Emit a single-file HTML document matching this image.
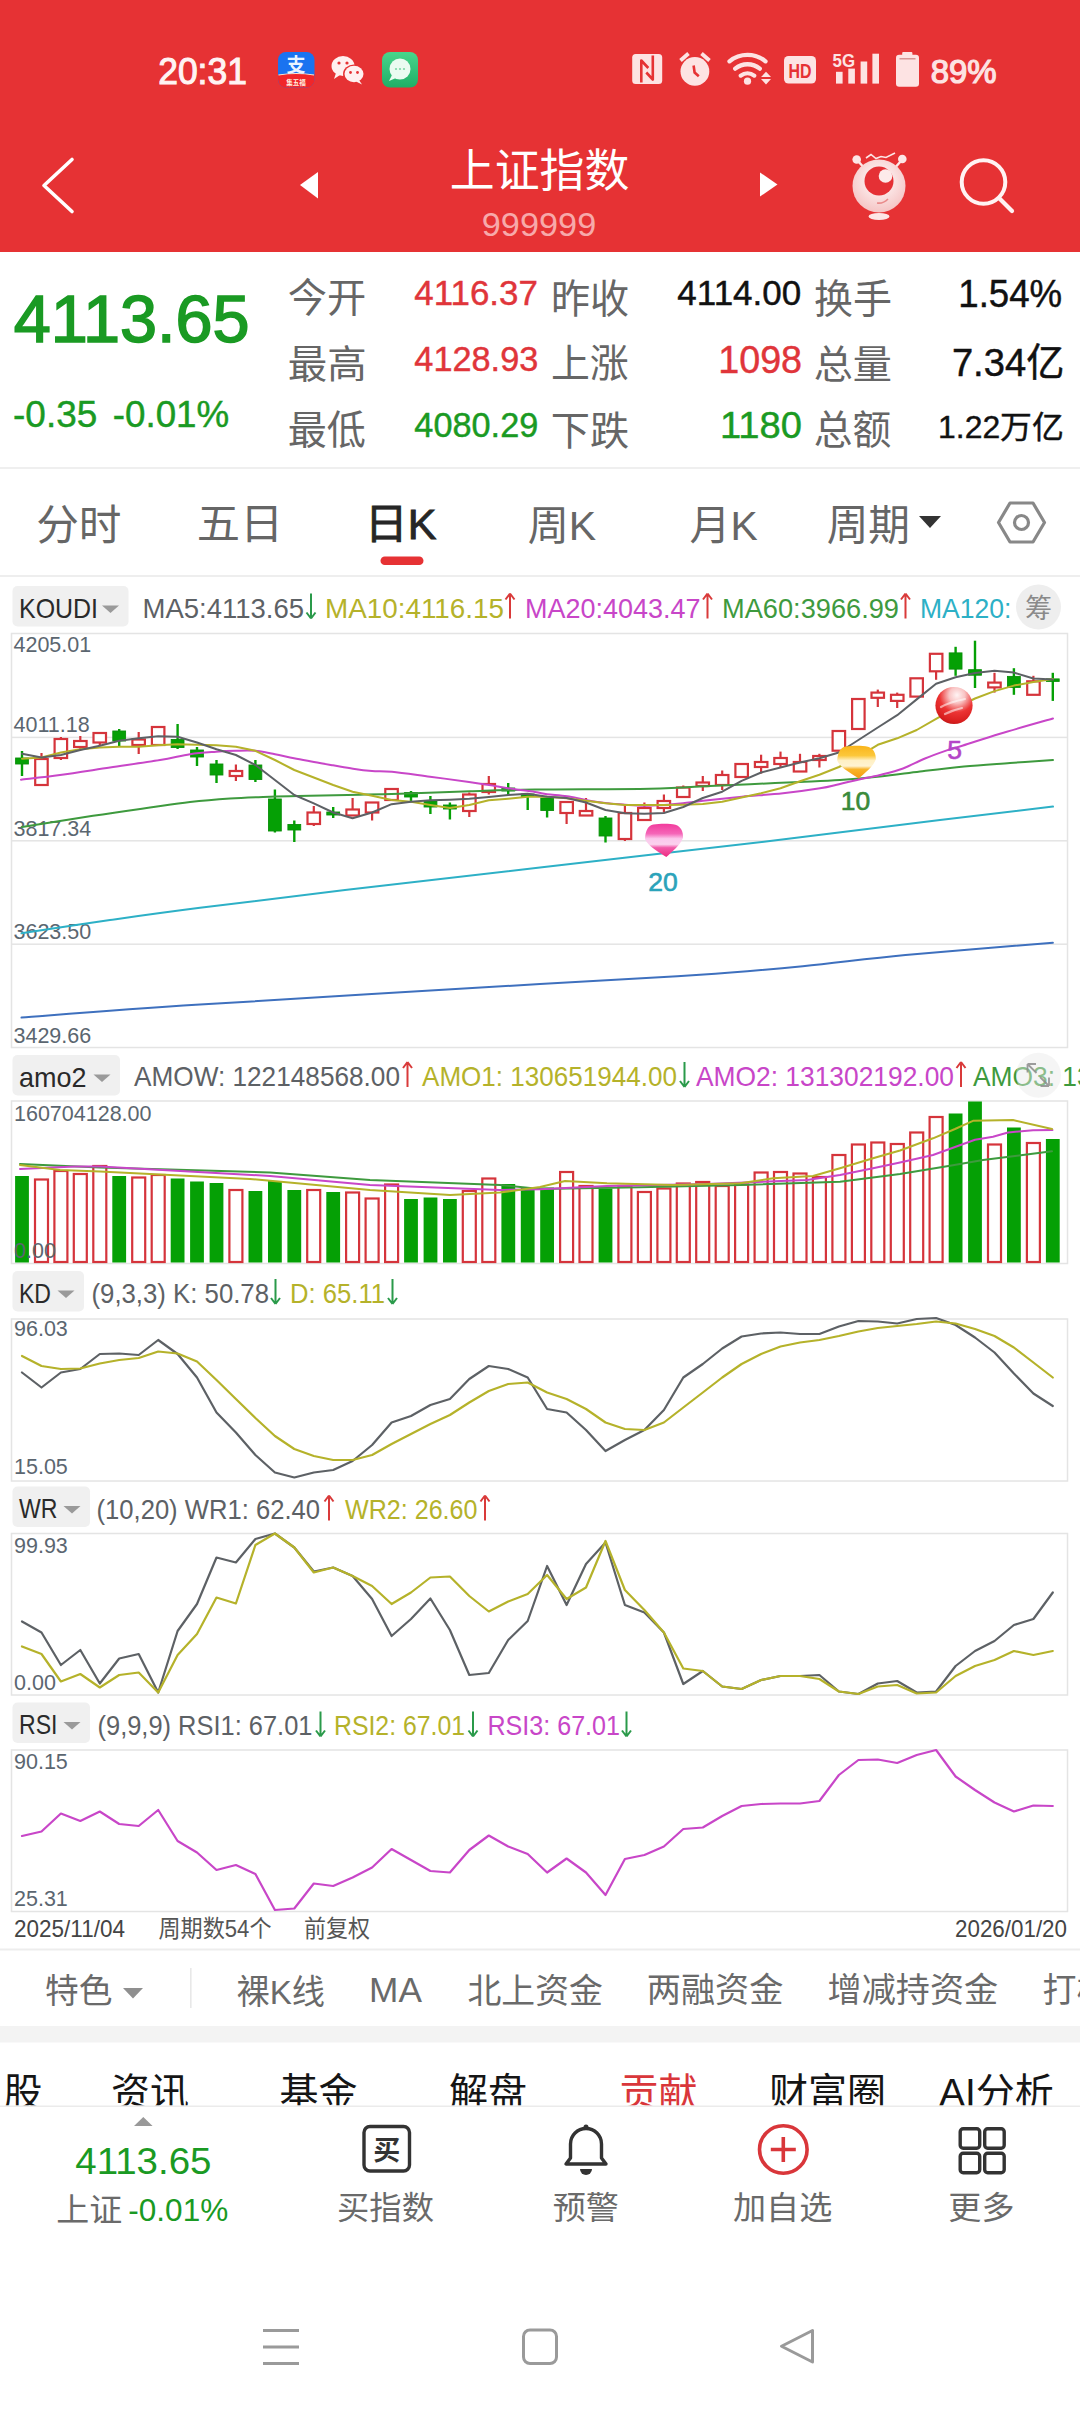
<!DOCTYPE html>
<html lang="zh-CN"><head><meta charset="utf-8"><title>上证指数</title>
<style>
*{margin:0;padding:0;box-sizing:border-box}
html,body{width:1080px;height:2412px;overflow:hidden;background:#fff}
body{position:relative;font-family:"Liberation Sans","Noto Sans CJK SC",sans-serif}
.a{position:absolute;white-space:nowrap}
svg{position:absolute;left:0;top:0;overflow:visible}
</style></head><body>
<svg width="1080" height="252" font-family='"Liberation Sans","Noto Sans CJK SC",sans-serif'><rect x="0" y="0" width="1080" height="252" fill="#E63234"/><text x="158.23" y="84.03" font-size="37.18" fill="#FFF3F3" textLength="88.63" lengthAdjust="spacingAndGlyphs" stroke="#FFF3F3" stroke-width="1.1" paint-order="stroke" >20:31</text><rect x="278" y="52" width="36.5" height="35.5" rx="8" fill="#1A73F0"/><path d="M278,75 q18.25,-3 36.5,0 v4.5 a8,8 0 0 1 -8,8 h-20.5 a8,8 0 0 1 -8,-8z" fill="#F0262A"/><path d="M278.5,75 q17.75,-3 35.5,0" fill="none" stroke="#FFE9D0" stroke-width="1.2"/><text x="296" y="72" font-size="19" fill="#EAF4FF" text-anchor="middle" font-weight="bold">支</text><text x="296" y="84.5" font-size="6.5" fill="#FFF1E0" text-anchor="middle" font-weight="bold">集五福</text><ellipse cx="343" cy="66" rx="11.5" ry="10" fill="#FFF0F0"/><path d="M336,73 l-2,6 l6,-4z" fill="#FFF0F0"/><ellipse cx="354" cy="74" rx="11" ry="9.5" fill="#E63234"/><ellipse cx="354" cy="74" rx="9.5" ry="8.2" fill="#FFF0F0"/><path d="M359,80 l3,4.5 l-6,-3z" fill="#FFF0F0"/><circle cx="339" cy="63" r="1.6" fill="#E63234"/><circle cx="347" cy="63" r="1.6" fill="#E63234"/><circle cx="350.5" cy="72.5" r="1.4" fill="#E63234"/><circle cx="357.5" cy="72.5" r="1.4" fill="#E63234"/><defs><linearGradient id="gm" x1="0" y1="0" x2="0" y2="1"><stop offset="0" stop-color="#49D58C"/><stop offset="1" stop-color="#1FAE66"/></linearGradient></defs><rect x="382" y="52" width="36" height="35.5" rx="8" fill="url(#gm)"/><circle cx="400" cy="69" r="10.5" fill="#EAFBF1"/><path d="M392,75 l-3,6 l7,-3z" fill="#EAFBF1"/><circle cx="396" cy="69" r="1.1" fill="#7FD7A6"/><circle cx="400" cy="69" r="1.1" fill="#7FD7A6"/><circle cx="404" cy="69" r="1.1" fill="#7FD7A6"/><rect x="632.2" y="54" width="30" height="30" rx="3.5" fill="#FDE3E3"/><path d="M641.3,82.5 V60.5 L648.3,68 M646.3,72.5 L652.8,79.5 V55.5" fill="none" stroke="#E63234" stroke-width="2.6" stroke-linejoin="round"/><circle cx="694.9" cy="71.4" r="14.4" fill="#FDE3E3"/><path d="M680.5,60.5 L688.5,53.5 M709.5,60.5 L701.5,53.5" fill="none" stroke="#FDE3E3" stroke-width="3.8" stroke-linecap="butt"/><path d="M693.6,65.5 L694.6,72.5 L698.8,76.2" fill="none" stroke="#E63234" stroke-width="2.6"/><path d="M729.5,61.3 A28.5,28.5 0 0 1 765.5,61.3 M735.2,68.6 A19.5,19.5 0 0 1 759.8,68.6 M740.8,75.6 A11,11 0 0 1 754.2,75.6" fill="none" stroke="#FDE3E3" stroke-width="4.3" stroke-linecap="round"/><circle cx="747.5" cy="81.2" r="3.6" fill="#FDE3E3"/><path d="M761,77 l5,-5.2 l5,5.2z M761,79 l5,5.4 l5,-5.4z" fill="#FDE3E3"/><rect x="784" y="56" width="32" height="27.6" rx="4.5" fill="#FDE3E3"/><text x="800" y="78" font-size="19.5" font-weight="bold" fill="#E63234" text-anchor="middle" textLength="23" lengthAdjust="spacingAndGlyphs">HD</text><text x="832.5" y="67" font-size="18.5" font-weight="bold" fill="#FDE3E3" textLength="22.5" lengthAdjust="spacingAndGlyphs">5G</text><rect x="836" y="71.8" width="6.6" height="11.799999999999997" fill="#FDE3E3"/><rect x="848.3" y="68.6" width="6.6" height="15.0" fill="#FDE3E3"/><rect x="860.6" y="61.5" width="6.6" height="22.099999999999994" fill="#FDE3E3"/><rect x="872.4" y="53.7" width="6.6" height="29.89999999999999" fill="#FDE3E3"/><rect x="902.2" y="52.1" width="10.2" height="4" rx="1" fill="#FDE3E3"/><rect x="896" y="54.7" width="23" height="32" rx="3.2" fill="#FDE3E3"/><rect x="899.5" y="58.2" width="16" height="1.2" fill="#D08080"/><text x="930.68" y="82.68" font-size="32.39" fill="#FDE3E3" textLength="65.96" lengthAdjust="spacingAndGlyphs" stroke="#FDE3E3" stroke-width="1.2" paint-order="stroke" >89%</text><path d="M72,159.5 L44,185.5 L72,211.5" fill="none" stroke="#fff" stroke-width="3.6" stroke-linecap="round" stroke-linejoin="round"/><path d="M318,172 L300,185 L318,198.5z" fill="#fff"/><path d="M760,172.5 L777.5,184.5 L760,196.5z" fill="#fff"/><text x="449.76" y="186.94" font-size="45.16" fill="#fff" textLength="179.59" lengthAdjust="spacingAndGlyphs" >上证指数</text><text x="481.79" y="235.68" font-size="32.39" fill="#F7A9AA" textLength="114.43" lengthAdjust="spacingAndGlyphs" >999999</text><circle cx="856.7" cy="159.5" r="4.3" fill="#FDE6E6"/><circle cx="902.3" cy="159" r="4.3" fill="#FDE6E6"/><path d="M858,161 L866,170 M901,161 L893,170" stroke="#FDE6E6" stroke-width="2.4"/><path d="M866,158 l5,-3.5 l5,4 l5,-2 l5,1 l9,-4.5" fill="none" stroke="#FDE6E6" stroke-width="1.6"/><defs><radialGradient id="hg" cx="0.5" cy="0.4" r="0.6"><stop offset="0" stop-color="#FFFFFF"/><stop offset="1" stop-color="#F5C4C4"/></radialGradient></defs><circle cx="879" cy="186" r="26.5" fill="url(#hg)"/><circle cx="879" cy="181" r="14.5" fill="#E53035"/><circle cx="885.5" cy="176" r="6.8" fill="#FDEAEA"/><path d="M877,203 q6,1 11,-4" fill="none" stroke="#E98A8A" stroke-width="1.6"/><ellipse cx="879" cy="216.5" rx="10.5" ry="3.4" fill="#FDE6E6"/><circle cx="983.5" cy="182" r="21.8" fill="none" stroke="#FFF3F3" stroke-width="4"/><path d="M1000,199 L1012,211" stroke="#FFF3F3" stroke-width="4.2" stroke-linecap="round"/></svg>
<svg width="1080" height="2412" font-family='"Liberation Sans","Noto Sans CJK SC",sans-serif'><rect x="0" y="467" width="1080" height="2" fill="#EFEFEF"/><text x="13.77" y="342.43" font-size="67.18" fill="#1A9A23" textLength="235.74" lengthAdjust="spacingAndGlyphs" stroke="#1A9A23" stroke-width="1.6" paint-order="stroke" >4113.65</text><text x="13.05" y="427.40" font-size="37.39" fill="#1A9A23" textLength="84.18" lengthAdjust="spacingAndGlyphs" stroke="#1A9A23" stroke-width="0.45" paint-order="stroke" >-0.35</text><text x="112.76" y="427.40" font-size="37.39" fill="#1A9A23" textLength="116.44" lengthAdjust="spacingAndGlyphs" stroke="#1A9A23" stroke-width="0.45" paint-order="stroke" >-0.01%</text><text x="287.73" y="312.23" font-size="39.68" fill="#666" textLength="78.53" lengthAdjust="spacingAndGlyphs" >今开</text><text x="287.73" y="378.10" font-size="38.94" fill="#666" textLength="78.94" lengthAdjust="spacingAndGlyphs" >最高</text><text x="287.75" y="444.21" font-size="39.89" fill="#666" textLength="78.12" lengthAdjust="spacingAndGlyphs" >最低</text><text x="550.97" y="312.58" font-size="40.22" fill="#666" textLength="78.19" lengthAdjust="spacingAndGlyphs" >昨收</text><text x="550.95" y="377.47" font-size="39.12" fill="#666" textLength="77.81" lengthAdjust="spacingAndGlyphs" >上涨</text><text x="550.75" y="444.62" font-size="39.78" fill="#666" textLength="78.42" lengthAdjust="spacingAndGlyphs" >下跌</text><text x="814.04" y="312.58" font-size="40.22" fill="#666" textLength="77.91" lengthAdjust="spacingAndGlyphs" >换手</text><text x="813.64" y="377.86" font-size="39.12" fill="#666" textLength="78.32" lengthAdjust="spacingAndGlyphs" >总量</text><text x="813.66" y="443.72" font-size="39.78" fill="#666" textLength="77.50" lengthAdjust="spacingAndGlyphs" >总额</text><text x="414.33" y="305.42" font-size="35.42" fill="#E0353A" textLength="123.51" lengthAdjust="spacingAndGlyphs" stroke="#E0353A" stroke-width="0.45" paint-order="stroke" >4116.37</text><text x="414.34" y="371.42" font-size="35.00" fill="#E0353A" textLength="123.97" lengthAdjust="spacingAndGlyphs" stroke="#E0353A" stroke-width="0.45" paint-order="stroke" >4128.93</text><text x="414.34" y="437.43" font-size="34.86" fill="#1A9A23" textLength="123.97" lengthAdjust="spacingAndGlyphs" stroke="#1A9A23" stroke-width="0.45" paint-order="stroke" >4080.29</text><text x="677.33" y="305.42" font-size="35.42" fill="#111" textLength="123.87" lengthAdjust="spacingAndGlyphs" stroke="#111" stroke-width="0.45" paint-order="stroke" >4114.00</text><text x="718.21" y="373.39" font-size="38.80" fill="#E0353A" textLength="83.85" lengthAdjust="spacingAndGlyphs" stroke="#E0353A" stroke-width="0.45" paint-order="stroke" >1098</text><text x="719.98" y="438.40" font-size="37.39" fill="#1A9A23" textLength="81.94" lengthAdjust="spacingAndGlyphs" stroke="#1A9A23" stroke-width="0.45" paint-order="stroke" >1180</text><text x="958.30" y="307.18" font-size="39.50" fill="#111" textLength="103.78" lengthAdjust="spacingAndGlyphs" stroke="#111" stroke-width="0.45" paint-order="stroke" >1.54%</text><text x="951.92" y="375.73" font-size="38.10" fill="#111" textLength="112.39" lengthAdjust="spacingAndGlyphs" stroke="#111" stroke-width="0.45" paint-order="stroke" >7.34亿</text><text x="938.05" y="438.31" font-size="31.09" fill="#111" textLength="125.87" lengthAdjust="spacingAndGlyphs" stroke="#111" stroke-width="0.4" paint-order="stroke" >1.22万亿</text></svg>
<svg width="1080" height="2412" font-family='"Liberation Sans","Noto Sans CJK SC",sans-serif'><text x="36.17" y="539.98" font-size="42.47" fill="#666" textLength="85.34" lengthAdjust="spacingAndGlyphs" >分时</text><text x="196.70" y="539.08" font-size="41.67" fill="#666" textLength="86.55" lengthAdjust="spacingAndGlyphs" >五日</text><text x="527.76" y="540.25" font-size="40.57" fill="#666" textLength="68.55" lengthAdjust="spacingAndGlyphs" >周K</text><text x="689.57" y="540.22" font-size="41.03" fill="#666" textLength="68.12" lengthAdjust="spacingAndGlyphs" >月K</text><text x="826.63" y="540.12" font-size="42.31" fill="#666" textLength="83.49" lengthAdjust="spacingAndGlyphs" >周期</text><text x="364.66" y="539.08" font-size="41.67" fill="#262626" textLength="71.67" lengthAdjust="spacingAndGlyphs" stroke="#262626" stroke-width="0.9" paint-order="stroke" >日K</text><rect x="380.5" y="556.5" width="43" height="8.5" rx="4.25" fill="#E63234"/><path d="M919,516 h22 l-11,12z" fill="#333"/><path d="M1010,503 h23 l11.5,19.5 l-11.5,19.5 h-23 l-11.5,-19.5z" fill="none" stroke="#888" stroke-width="3.2" stroke-linejoin="round"/><circle cx="1021.5" cy="522.5" r="7" fill="none" stroke="#888" stroke-width="3.2"/><rect x="0" y="575" width="1080" height="2" fill="#EEEEEE"/></svg>
<svg width="1080" height="2412" font-family='"Liberation Sans","Noto Sans CJK SC",sans-serif'><rect x="12.5" y="586" width="116" height="40.5" rx="5" fill="#F0F0F0"/><text x="19.0" y="617.5" font-size="27.5" fill="#2A2A2A" text-anchor="start" font-family="Liberation Sans, sans-serif" textLength="79" lengthAdjust="spacingAndGlyphs">KOUDI</text><path d="M102.0,605.5 h17 l-8.5,7.5z" fill="#9A9A9A"/><text x="142.5" y="617.5" font-size="27.5" fill="#5D6165" text-anchor="start" font-family="Liberation Sans, sans-serif" textLength="161.5" lengthAdjust="spacingAndGlyphs">MA5:4113.65</text><path d="M311,593.5 v25 M311,618.5 l-4.5,-6 M311,618.5 l4.5,-6" stroke="#2A9A4A" stroke-width="2" fill="none"/><text x="325" y="617.5" font-size="27.5" fill="#B5B22A" text-anchor="start" font-family="Liberation Sans, sans-serif" textLength="179" lengthAdjust="spacingAndGlyphs">MA10:4116.15</text><path d="M510,593.5 v25 M510,593.5 l-4.5,6 M510,593.5 l4.5,6" stroke="#D93A3A" stroke-width="2" fill="none"/><text x="525" y="617.5" font-size="27.5" fill="#C846C8" text-anchor="start" font-family="Liberation Sans, sans-serif" textLength="175.5" lengthAdjust="spacingAndGlyphs">MA20:4043.47</text><path d="M707.5,593.5 v25 M707.5,593.5 l-4.5,6 M707.5,593.5 l4.5,6" stroke="#D93A3A" stroke-width="2" fill="none"/><text x="722" y="617.5" font-size="27.5" fill="#3E9A3E" text-anchor="start" font-family="Liberation Sans, sans-serif" textLength="177" lengthAdjust="spacingAndGlyphs">MA60:3966.99</text><path d="M905.5,593.5 v25 M905.5,593.5 l-4.5,6 M905.5,593.5 l4.5,6" stroke="#D93A3A" stroke-width="2" fill="none"/><text x="920" y="617.5" font-size="27.5" fill="#2DB0C6" text-anchor="start" font-family="Liberation Sans, sans-serif" textLength="91.5" lengthAdjust="spacingAndGlyphs">MA120:</text><circle cx="1038.5" cy="607" r="22.5" fill="#EEEEEE"/><text x="1038.5" y="617.5" font-size="27" fill="#8A8A8A" text-anchor="middle" >筹</text><rect x="11.5" y="633.5" width="1056" height="414.0" fill="none" stroke="#E4E4E4" stroke-width="1.5"/><rect x="12" y="736.65" width="1055" height="1.5" fill="#E4E4E4"/><rect x="12" y="840.05" width="1055" height="1.5" fill="#E4E4E4"/><rect x="12" y="943.45" width="1055" height="1.5" fill="#E4E4E4"/><text x="13.5" y="651.5" font-size="21.5" fill="#5B6670" text-anchor="start" font-family="Liberation Sans, sans-serif">4205.01</text><text x="13.5" y="732" font-size="21.5" fill="#5B6670" text-anchor="start" font-family="Liberation Sans, sans-serif">4011.18</text><text x="13.5" y="835.5" font-size="21.5" fill="#5B6670" text-anchor="start" font-family="Liberation Sans, sans-serif">3817.34</text><text x="13.5" y="939" font-size="21.5" fill="#5B6670" text-anchor="start" font-family="Liberation Sans, sans-serif">3623.50</text><text x="13.5" y="1042.5" font-size="21.5" fill="#5B6670" text-anchor="start" font-family="Liberation Sans, sans-serif">3429.66</text><line x1="22.0" y1="751.0" x2="22.0" y2="776.0" stroke="#05A005" stroke-width="2.4"/><rect x="15.6" y="758.0" width="12.8" height="6.0" fill="#05A005" stroke="#0A8F0A" stroke-width="0.9"/><line x1="41.5" y1="753.0" x2="41.5" y2="759.0" stroke="#D5343B" stroke-width="2.2"/><line x1="41.5" y1="785.0" x2="41.5" y2="785.0" stroke="#D5343B" stroke-width="2.2"/><rect x="35.2" y="759.0" width="12.5" height="26.0" fill="#fff" stroke="#D5343B" stroke-width="2.2"/><line x1="60.9" y1="737.0" x2="60.9" y2="739.0" stroke="#D5343B" stroke-width="2.2"/><line x1="60.9" y1="758.0" x2="60.9" y2="760.0" stroke="#D5343B" stroke-width="2.2"/><rect x="54.6" y="739.0" width="12.5" height="19.0" fill="#fff" stroke="#D5343B" stroke-width="2.2"/><line x1="80.3" y1="736.0" x2="80.3" y2="741.0" stroke="#D5343B" stroke-width="2.2"/><line x1="80.3" y1="747.0" x2="80.3" y2="749.0" stroke="#D5343B" stroke-width="2.2"/><rect x="74.1" y="741.0" width="12.5" height="6.0" fill="#fff" stroke="#D5343B" stroke-width="2.2"/><line x1="99.8" y1="733.0" x2="99.8" y2="733.0" stroke="#D5343B" stroke-width="2.2"/><line x1="99.8" y1="742.5" x2="99.8" y2="746.0" stroke="#D5343B" stroke-width="2.2"/><rect x="93.5" y="733.0" width="12.5" height="9.5" fill="#fff" stroke="#D5343B" stroke-width="2.2"/><line x1="119.2" y1="729.0" x2="119.2" y2="746.0" stroke="#05A005" stroke-width="2.4"/><rect x="112.8" y="731.0" width="12.8" height="10.0" fill="#05A005" stroke="#0A8F0A" stroke-width="0.9"/><line x1="138.7" y1="732.0" x2="138.7" y2="739.5" stroke="#D5343B" stroke-width="2.2"/><line x1="138.7" y1="745.0" x2="138.7" y2="754.0" stroke="#D5343B" stroke-width="2.2"/><rect x="132.4" y="739.5" width="12.5" height="5.5" fill="#fff" stroke="#D5343B" stroke-width="2.2"/><line x1="158.2" y1="727.0" x2="158.2" y2="727.0" stroke="#D5343B" stroke-width="2.2"/><line x1="158.2" y1="745.0" x2="158.2" y2="745.0" stroke="#D5343B" stroke-width="2.2"/><rect x="151.9" y="727.0" width="12.5" height="18.0" fill="#fff" stroke="#D5343B" stroke-width="2.2"/><line x1="177.6" y1="724.0" x2="177.6" y2="749.0" stroke="#05A005" stroke-width="2.4"/><rect x="171.2" y="739.5" width="12.8" height="8.0" fill="#05A005" stroke="#0A8F0A" stroke-width="0.9"/><line x1="197.0" y1="747.0" x2="197.0" y2="766.0" stroke="#05A005" stroke-width="2.4"/><rect x="190.6" y="750.0" width="12.8" height="7.0" fill="#05A005" stroke="#0A8F0A" stroke-width="0.9"/><line x1="216.5" y1="760.0" x2="216.5" y2="783.0" stroke="#05A005" stroke-width="2.4"/><rect x="210.1" y="764.0" width="12.8" height="11.0" fill="#05A005" stroke="#0A8F0A" stroke-width="0.9"/><line x1="235.9" y1="764.5" x2="235.9" y2="771.0" stroke="#D5343B" stroke-width="2.2"/><line x1="235.9" y1="776.0" x2="235.9" y2="781.0" stroke="#D5343B" stroke-width="2.2"/><rect x="229.7" y="771.0" width="12.5" height="5.0" fill="#fff" stroke="#D5343B" stroke-width="2.2"/><line x1="255.4" y1="760.0" x2="255.4" y2="782.0" stroke="#05A005" stroke-width="2.4"/><rect x="249.0" y="765.0" width="12.8" height="14.5" fill="#05A005" stroke="#0A8F0A" stroke-width="0.9"/><line x1="274.9" y1="789.5" x2="274.9" y2="832.5" stroke="#05A005" stroke-width="2.4"/><rect x="268.5" y="799.0" width="12.8" height="32.0" fill="#05A005" stroke="#0A8F0A" stroke-width="0.9"/><line x1="294.3" y1="820.5" x2="294.3" y2="842.0" stroke="#05A005" stroke-width="2.4"/><rect x="287.9" y="824.5" width="12.8" height="5.5" fill="#05A005" stroke="#0A8F0A" stroke-width="0.9"/><line x1="313.8" y1="806.0" x2="313.8" y2="812.5" stroke="#D5343B" stroke-width="2.2"/><line x1="313.8" y1="824.0" x2="313.8" y2="826.0" stroke="#D5343B" stroke-width="2.2"/><rect x="307.5" y="812.5" width="12.5" height="11.5" fill="#fff" stroke="#D5343B" stroke-width="2.2"/><line x1="333.2" y1="807.0" x2="333.2" y2="818.0" stroke="#05A005" stroke-width="2.4"/><rect x="326.8" y="812.0" width="12.8" height="3.0" fill="#05A005" stroke="#0A8F0A" stroke-width="0.9"/><line x1="352.6" y1="798.0" x2="352.6" y2="809.5" stroke="#D5343B" stroke-width="2.2"/><line x1="352.6" y1="815.5" x2="352.6" y2="816.0" stroke="#D5343B" stroke-width="2.2"/><rect x="346.4" y="809.5" width="12.5" height="6.0" fill="#fff" stroke="#D5343B" stroke-width="2.2"/><line x1="372.1" y1="802.5" x2="372.1" y2="802.5" stroke="#D5343B" stroke-width="2.2"/><line x1="372.1" y1="812.5" x2="372.1" y2="820.5" stroke="#D5343B" stroke-width="2.2"/><rect x="365.8" y="802.5" width="12.5" height="10.0" fill="#fff" stroke="#D5343B" stroke-width="2.2"/><line x1="391.6" y1="789.0" x2="391.6" y2="789.0" stroke="#D5343B" stroke-width="2.2"/><line x1="391.6" y1="800.0" x2="391.6" y2="800.0" stroke="#D5343B" stroke-width="2.2"/><rect x="385.3" y="789.0" width="12.5" height="11.0" fill="#fff" stroke="#D5343B" stroke-width="2.2"/><line x1="411.0" y1="791.0" x2="411.0" y2="801.0" stroke="#05A005" stroke-width="2.4"/><rect x="404.6" y="792.5" width="12.8" height="4.5" fill="#05A005" stroke="#0A8F0A" stroke-width="0.9"/><line x1="430.4" y1="796.0" x2="430.4" y2="814.0" stroke="#05A005" stroke-width="2.4"/><rect x="424.1" y="801.0" width="12.8" height="6.0" fill="#05A005" stroke="#0A8F0A" stroke-width="0.9"/><line x1="449.9" y1="802.5" x2="449.9" y2="819.5" stroke="#05A005" stroke-width="2.4"/><rect x="443.5" y="805.0" width="12.8" height="4.0" fill="#05A005" stroke="#0A8F0A" stroke-width="0.9"/><line x1="469.3" y1="792.5" x2="469.3" y2="794.5" stroke="#D5343B" stroke-width="2.2"/><line x1="469.3" y1="811.0" x2="469.3" y2="817.0" stroke="#D5343B" stroke-width="2.2"/><rect x="463.1" y="794.5" width="12.5" height="16.5" fill="#fff" stroke="#D5343B" stroke-width="2.2"/><line x1="488.8" y1="776.0" x2="488.8" y2="784.0" stroke="#D5343B" stroke-width="2.2"/><line x1="488.8" y1="792.0" x2="488.8" y2="794.5" stroke="#D5343B" stroke-width="2.2"/><rect x="482.5" y="784.0" width="12.5" height="8.0" fill="#fff" stroke="#D5343B" stroke-width="2.2"/><line x1="508.2" y1="783.0" x2="508.2" y2="795.0" stroke="#05A005" stroke-width="2.4"/><rect x="501.9" y="788.0" width="12.8" height="3.0" fill="#05A005" stroke="#0A8F0A" stroke-width="0.9"/><line x1="527.7" y1="793.0" x2="527.7" y2="810.0" stroke="#05A005" stroke-width="2.4"/><rect x="521.3" y="794.0" width="12.8" height="2.5" fill="#05A005" stroke="#0A8F0A" stroke-width="0.9"/><line x1="547.1" y1="798.0" x2="547.1" y2="817.5" stroke="#05A005" stroke-width="2.4"/><rect x="540.8" y="798.0" width="12.8" height="12.5" fill="#05A005" stroke="#0A8F0A" stroke-width="0.9"/><line x1="566.6" y1="802.0" x2="566.6" y2="802.0" stroke="#D5343B" stroke-width="2.2"/><line x1="566.6" y1="813.0" x2="566.6" y2="824.0" stroke="#D5343B" stroke-width="2.2"/><rect x="560.4" y="802.0" width="12.5" height="11.0" fill="#fff" stroke="#D5343B" stroke-width="2.2"/><line x1="586.0" y1="798.0" x2="586.0" y2="811.0" stroke="#D5343B" stroke-width="2.2"/><line x1="586.0" y1="815.5" x2="586.0" y2="815.5" stroke="#D5343B" stroke-width="2.2"/><rect x="579.8" y="811.0" width="12.5" height="4.5" fill="#fff" stroke="#D5343B" stroke-width="2.2"/><line x1="605.5" y1="816.0" x2="605.5" y2="842.5" stroke="#05A005" stroke-width="2.4"/><rect x="599.1" y="818.0" width="12.8" height="18.0" fill="#05A005" stroke="#0A8F0A" stroke-width="0.9"/><line x1="624.9" y1="805.0" x2="624.9" y2="813.0" stroke="#D5343B" stroke-width="2.2"/><line x1="624.9" y1="839.0" x2="624.9" y2="841.0" stroke="#D5343B" stroke-width="2.2"/><rect x="618.7" y="813.0" width="12.5" height="26.0" fill="#fff" stroke="#D5343B" stroke-width="2.2"/><line x1="644.4" y1="802.5" x2="644.4" y2="808.0" stroke="#D5343B" stroke-width="2.2"/><line x1="644.4" y1="820.0" x2="644.4" y2="820.0" stroke="#D5343B" stroke-width="2.2"/><rect x="638.1" y="808.0" width="12.5" height="12.0" fill="#fff" stroke="#D5343B" stroke-width="2.2"/><line x1="663.9" y1="794.5" x2="663.9" y2="801.0" stroke="#D5343B" stroke-width="2.2"/><line x1="663.9" y1="808.0" x2="663.9" y2="812.5" stroke="#D5343B" stroke-width="2.2"/><rect x="657.6" y="801.0" width="12.5" height="7.0" fill="#fff" stroke="#D5343B" stroke-width="2.2"/><line x1="683.3" y1="785.5" x2="683.3" y2="787.5" stroke="#D5343B" stroke-width="2.2"/><line x1="683.3" y1="797.0" x2="683.3" y2="797.0" stroke="#D5343B" stroke-width="2.2"/><rect x="677.0" y="787.5" width="12.5" height="9.5" fill="#fff" stroke="#D5343B" stroke-width="2.2"/><line x1="702.8" y1="776.0" x2="702.8" y2="782.5" stroke="#D5343B" stroke-width="2.2"/><line x1="702.8" y1="786.0" x2="702.8" y2="791.0" stroke="#D5343B" stroke-width="2.2"/><rect x="696.5" y="782.5" width="12.5" height="3.5" fill="#fff" stroke="#D5343B" stroke-width="2.2"/><line x1="722.2" y1="770.5" x2="722.2" y2="775.0" stroke="#D5343B" stroke-width="2.2"/><line x1="722.2" y1="785.0" x2="722.2" y2="790.0" stroke="#D5343B" stroke-width="2.2"/><rect x="715.9" y="775.0" width="12.5" height="10.0" fill="#fff" stroke="#D5343B" stroke-width="2.2"/><line x1="741.6" y1="764.0" x2="741.6" y2="764.0" stroke="#D5343B" stroke-width="2.2"/><line x1="741.6" y1="777.0" x2="741.6" y2="777.0" stroke="#D5343B" stroke-width="2.2"/><rect x="735.4" y="764.0" width="12.5" height="13.0" fill="#fff" stroke="#D5343B" stroke-width="2.2"/><line x1="761.1" y1="754.7" x2="761.1" y2="762.0" stroke="#D5343B" stroke-width="2.2"/><line x1="761.1" y1="767.0" x2="761.1" y2="773.6" stroke="#D5343B" stroke-width="2.2"/><rect x="754.9" y="762.0" width="12.5" height="5.0" fill="#fff" stroke="#D5343B" stroke-width="2.2"/><line x1="780.5" y1="751.6" x2="780.5" y2="758.0" stroke="#D5343B" stroke-width="2.2"/><line x1="780.5" y1="764.0" x2="780.5" y2="767.5" stroke="#D5343B" stroke-width="2.2"/><rect x="774.3" y="758.0" width="12.5" height="6.0" fill="#fff" stroke="#D5343B" stroke-width="2.2"/><line x1="800.0" y1="753.8" x2="800.0" y2="762.0" stroke="#D5343B" stroke-width="2.2"/><line x1="800.0" y1="771.5" x2="800.0" y2="771.5" stroke="#D5343B" stroke-width="2.2"/><rect x="793.8" y="762.0" width="12.5" height="9.5" fill="#fff" stroke="#D5343B" stroke-width="2.2"/><line x1="819.4" y1="753.8" x2="819.4" y2="756.0" stroke="#D5343B" stroke-width="2.2"/><line x1="819.4" y1="760.0" x2="819.4" y2="767.5" stroke="#D5343B" stroke-width="2.2"/><rect x="813.2" y="756.0" width="12.5" height="4.0" fill="#fff" stroke="#D5343B" stroke-width="2.2"/><line x1="838.9" y1="731.0" x2="838.9" y2="731.0" stroke="#D5343B" stroke-width="2.2"/><line x1="838.9" y1="750.7" x2="838.9" y2="750.7" stroke="#D5343B" stroke-width="2.2"/><rect x="832.6" y="731.0" width="12.5" height="19.7" fill="#fff" stroke="#D5343B" stroke-width="2.2"/><line x1="858.4" y1="699.0" x2="858.4" y2="699.0" stroke="#D5343B" stroke-width="2.2"/><line x1="858.4" y1="729.0" x2="858.4" y2="729.0" stroke="#D5343B" stroke-width="2.2"/><rect x="852.1" y="699.0" width="12.5" height="30.0" fill="#fff" stroke="#D5343B" stroke-width="2.2"/><line x1="877.8" y1="689.6" x2="877.8" y2="692.6" stroke="#D5343B" stroke-width="2.2"/><line x1="877.8" y1="697.8" x2="877.8" y2="707.0" stroke="#D5343B" stroke-width="2.2"/><rect x="871.5" y="692.6" width="12.5" height="5.2" fill="#fff" stroke="#D5343B" stroke-width="2.2"/><line x1="897.2" y1="692.6" x2="897.2" y2="694.8" stroke="#D5343B" stroke-width="2.2"/><line x1="897.2" y1="700.9" x2="897.2" y2="708.0" stroke="#D5343B" stroke-width="2.2"/><rect x="891.0" y="694.8" width="12.5" height="6.1" fill="#fff" stroke="#D5343B" stroke-width="2.2"/><line x1="916.7" y1="678.3" x2="916.7" y2="678.3" stroke="#D5343B" stroke-width="2.2"/><line x1="916.7" y1="696.6" x2="916.7" y2="696.6" stroke="#D5343B" stroke-width="2.2"/><rect x="910.4" y="678.3" width="12.5" height="18.3" fill="#fff" stroke="#D5343B" stroke-width="2.2"/><line x1="936.1" y1="653.8" x2="936.1" y2="653.8" stroke="#D5343B" stroke-width="2.2"/><line x1="936.1" y1="671.2" x2="936.1" y2="679.8" stroke="#D5343B" stroke-width="2.2"/><rect x="929.9" y="653.8" width="12.5" height="17.5" fill="#fff" stroke="#D5343B" stroke-width="2.2"/><line x1="955.6" y1="646.8" x2="955.6" y2="675.8" stroke="#05A005" stroke-width="2.4"/><rect x="949.2" y="652.9" width="12.8" height="16.2" fill="#05A005" stroke="#0A8F0A" stroke-width="0.9"/><line x1="975.0" y1="640.7" x2="975.0" y2="688.0" stroke="#05A005" stroke-width="2.4"/><rect x="968.6" y="669.7" width="12.8" height="5.5" fill="#05A005" stroke="#0A8F0A" stroke-width="0.9"/><line x1="994.5" y1="672.8" x2="994.5" y2="682.6" stroke="#D5343B" stroke-width="2.2"/><line x1="994.5" y1="687.4" x2="994.5" y2="692.6" stroke="#D5343B" stroke-width="2.2"/><rect x="988.2" y="682.6" width="12.5" height="4.8" fill="#fff" stroke="#D5343B" stroke-width="2.2"/><line x1="1013.9" y1="668.2" x2="1013.9" y2="694.8" stroke="#05A005" stroke-width="2.4"/><rect x="1007.5" y="676.4" width="12.8" height="11.0" fill="#05A005" stroke="#0A8F0A" stroke-width="0.9"/><line x1="1033.4" y1="675.8" x2="1033.4" y2="681.3" stroke="#D5343B" stroke-width="2.2"/><line x1="1033.4" y1="694.8" x2="1033.4" y2="694.8" stroke="#D5343B" stroke-width="2.2"/><rect x="1027.2" y="681.3" width="12.5" height="13.5" fill="#fff" stroke="#D5343B" stroke-width="2.2"/><line x1="1052.8" y1="672.8" x2="1052.8" y2="700.9" stroke="#05A005" stroke-width="2.4"/><rect x="1046.4" y="678.9" width="12.8" height="2.5" fill="#05A005" stroke="#0A8F0A" stroke-width="0.9"/><path d="M21.5,1017.6 C51.2,1015.4 113.6,1010.2 200.0,1004.6 C286.4,999.0 456.7,989.0 540.0,984.0 C623.3,979.0 656.2,977.8 700.0,974.8 C743.8,971.8 768.5,969.5 802.8,966.2 C837.0,962.9 863.8,958.9 905.5,955.0 C947.2,951.1 1028.3,944.8 1052.9,942.8" fill="none" stroke="#3E70BE" stroke-width="2" stroke-linecap="round"/><path d="M21.5,933.3 C36.2,931.1 80.2,924.2 110.0,920.0 C139.8,915.8 160.8,912.8 200.0,907.8 C239.2,902.8 288.3,896.7 345.0,890.0 C401.7,883.3 469.2,875.7 540.0,867.5 C610.8,859.3 703.3,848.9 770.0,841.0 C836.7,833.1 892.8,825.7 940.0,820.0 C987.2,814.3 1034.2,808.8 1053.0,806.6" fill="none" stroke="#2DB0C6" stroke-width="2" stroke-linecap="round"/><path d="M22.0,827.0 C33.8,825.1 71.7,819.0 93.0,815.8 C114.3,812.5 133.8,809.8 150.0,807.5 C166.2,805.2 176.7,803.5 190.0,802.0 C203.3,800.5 216.7,799.4 230.0,798.5 C243.3,797.6 256.7,797.2 270.0,796.7 C283.3,796.2 295.0,796.1 310.0,795.8 C325.0,795.5 345.0,795.1 360.0,794.7 C375.0,794.4 381.7,794.3 400.0,793.7 C418.3,793.1 447.5,792.0 470.0,791.3 C492.5,790.6 505.0,790.0 535.0,789.6 C565.0,789.2 620.8,789.4 650.0,788.8 C679.2,788.2 693.3,786.8 710.0,786.0 C726.7,785.2 735.0,784.9 750.0,784.2 C765.0,783.5 785.0,782.7 800.0,782.0 C815.0,781.3 826.7,780.9 840.0,780.0 C853.3,779.1 866.7,777.9 880.0,776.5 C893.3,775.1 906.0,773.2 920.0,771.5 C934.0,769.8 949.0,767.9 964.0,766.5 C979.0,765.1 995.2,764.1 1010.0,763.0 C1024.8,761.9 1045.8,760.5 1053.0,760.0" fill="none" stroke="#3E9A3E" stroke-width="2" stroke-linecap="round"/><path d="M21.0,779.7 C27.5,778.9 45.2,777.0 60.0,775.0 C74.8,773.0 93.3,770.0 110.0,767.5 C126.7,765.0 146.7,762.2 160.0,760.0 C173.3,757.8 180.7,755.6 190.0,754.2 C199.3,752.8 208.3,752.3 216.0,751.7 C223.7,751.1 229.5,750.9 236.0,750.8 C242.5,750.6 248.5,750.2 255.0,750.8 C261.5,751.4 268.5,753.0 275.0,754.2 C281.5,755.5 287.5,757.0 294.0,758.3 C300.5,759.6 307.5,760.8 314.0,762.0 C320.5,763.2 326.5,764.2 333.0,765.3 C339.5,766.4 346.5,767.8 353.0,768.7 C359.5,769.7 365.5,770.5 372.0,771.0 C378.5,771.5 382.3,770.8 392.0,771.7 C401.7,772.7 417.2,775.0 430.0,776.7 C442.8,778.4 459.2,780.6 469.0,782.0 C478.8,783.4 482.5,784.0 489.0,785.0 C495.5,786.0 500.3,787.1 508.0,788.3 C515.7,789.5 528.5,791.0 535.0,792.0 C541.5,793.0 541.7,793.5 547.0,794.2 C552.3,794.9 560.5,795.3 567.0,796.3 C573.5,797.3 579.7,798.9 586.0,800.0 C592.3,801.1 598.5,802.2 605.0,803.0 C611.5,803.8 618.5,804.2 625.0,804.7 C631.5,805.2 637.5,805.8 644.0,805.8 C650.5,805.8 657.5,805.4 664.0,805.0 C670.5,804.6 676.5,804.0 683.0,803.3 C689.5,802.6 693.2,801.9 703.0,800.8 C712.8,799.7 728.7,798.0 742.0,796.7 C755.3,795.5 770.0,794.7 783.0,793.3 C796.0,791.9 810.7,789.8 820.0,788.3 C829.3,786.8 832.7,785.6 839.0,784.2 C845.3,782.8 851.2,781.2 858.0,779.7 C864.8,778.2 872.5,776.9 880.0,775.0 C887.5,773.1 895.5,771.2 903.0,768.5 C910.5,765.8 917.5,761.6 925.0,758.5 C932.5,755.4 941.7,752.2 948.0,750.0 C954.3,747.8 954.3,748.2 963.0,745.5 C971.7,742.8 985.0,738.2 1000.0,733.7 C1015.0,729.2 1044.2,721.0 1053.0,718.5" fill="none" stroke="#C846C8" stroke-width="2" stroke-linecap="round"/><polyline points="22.0,758.7 41.5,757.5 60.9,752.5 80.3,749.2 99.8,747.5 119.2,746.7 138.7,746.7 158.2,745.3 177.6,744.2 197.0,744.7 216.5,745.3 235.9,746.7 255.4,750.8 274.9,760.0 294.3,770.0 313.8,777.5 333.2,785.0 352.6,791.7 372.1,795.8 391.6,800.0 411.0,801.7 430.4,805.0 449.9,808.0 469.3,805.0 488.8,800.3 508.2,798.7 527.7,796.7 547.1,796.7 566.6,798.3 586.0,800.8 605.5,803.3 624.9,805.0 644.4,805.0 663.9,805.0 683.3,804.7 702.8,804.0 722.2,801.7 741.6,797.5 761.1,793.3 780.5,788.3 800.0,781.3 819.4,774.7 838.9,767.0 858.4,756.7 877.8,744.8 897.2,738.3 916.7,730.0 936.1,718.9 955.6,707.8 975.0,698.5 994.5,691.1 1013.9,685.6 1033.4,681.9 1052.8,679.1" fill="none" stroke="#B5B22A" stroke-width="2" stroke-linejoin="round" stroke-linecap="round"/><polyline points="22.0,753.7 41.5,757.5 60.9,755.0 80.3,750.0 99.8,745.8 119.2,740.8 138.7,738.3 158.2,736.3 177.6,736.7 197.0,742.5 216.5,749.2 235.9,755.0 255.4,765.0 274.9,780.0 294.3,795.0 313.8,803.3 333.2,812.5 352.6,818.3 372.1,812.5 391.6,804.2 411.0,801.7 430.4,800.3 449.9,799.7 469.3,798.7 488.8,797.0 508.2,795.0 527.7,793.7 547.1,796.7 566.6,798.0 586.0,802.5 605.5,810.0 624.9,813.3 644.4,813.7 663.9,813.0 683.3,807.0 702.8,798.0 722.2,791.7 741.6,780.8 761.1,772.5 780.5,767.5 800.0,762.5 819.4,758.3 838.9,752.5 858.4,740.0 877.8,727.5 897.2,715.2 916.7,699.4 936.1,683.7 955.6,677.2 975.0,673.0 994.5,670.7 1013.9,672.6 1033.4,678.5 1052.8,679.6" fill="none" stroke="#5D6165" stroke-width="2" stroke-linejoin="round" stroke-linecap="round"/></svg>
<svg width="1080" height="2412" font-family='"Liberation Sans","Noto Sans CJK SC",sans-serif'><rect x="12.5" y="1055" width="107.5" height="40.5" rx="5" fill="#F0F0F0"/><text x="19.0" y="1086.5" font-size="27.5" fill="#2A2A2A" text-anchor="start" font-family="Liberation Sans, sans-serif" textLength="67.5" lengthAdjust="spacingAndGlyphs">amo2</text><path d="M93.5,1074.5 h17 l-8.5,7.5z" fill="#9A9A9A"/><text x="134" y="1086" font-size="27.5" fill="#5D6165" text-anchor="start" font-family="Liberation Sans, sans-serif" textLength="266" lengthAdjust="spacingAndGlyphs">AMOW: 122148568.00</text><path d="M407.5,1062 v25 M407.5,1062 l-4.5,6 M407.5,1062 l4.5,6" stroke="#D93A3A" stroke-width="2" fill="none"/><text x="422" y="1086" font-size="27.5" fill="#B5B22A" text-anchor="start" font-family="Liberation Sans, sans-serif" textLength="255" lengthAdjust="spacingAndGlyphs">AMO1: 130651944.00</text><path d="M684.5,1062 v25 M684.5,1087 l-4.5,-6 M684.5,1087 l4.5,-6" stroke="#2A9A4A" stroke-width="2" fill="none"/><text x="696" y="1086" font-size="27.5" fill="#C846C8" text-anchor="start" font-family="Liberation Sans, sans-serif" textLength="258" lengthAdjust="spacingAndGlyphs">AMO2: 131302192.00</text><path d="M961,1062 v25 M961,1062 l-4.5,6 M961,1062 l4.5,6" stroke="#D93A3A" stroke-width="2" fill="none"/><text x="973" y="1086" font-size="27.5" fill="#3E9A3E" text-anchor="start" font-family="Liberation Sans, sans-serif" textLength="258" lengthAdjust="spacingAndGlyphs">AMO3: 131302192.00</text><rect x="11.5" y="1101" width="1056" height="162.5" fill="none" stroke="#E4E4E4" stroke-width="1.5"/><rect x="15.1" y="1176.0" width="13.8" height="86.5" fill="#05A005"/><rect x="35.0" y="1179.5" width="13" height="82.5" fill="#fff" stroke="#D5343B" stroke-width="2.2"/><rect x="54.4" y="1171.0" width="13" height="91.0" fill="#fff" stroke="#D5343B" stroke-width="2.2"/><rect x="73.8" y="1174.0" width="13" height="88.0" fill="#fff" stroke="#D5343B" stroke-width="2.2"/><rect x="93.3" y="1166.0" width="13" height="96.0" fill="#fff" stroke="#D5343B" stroke-width="2.2"/><rect x="112.3" y="1176.0" width="13.8" height="86.5" fill="#05A005"/><rect x="132.2" y="1177.5" width="13" height="84.5" fill="#fff" stroke="#D5343B" stroke-width="2.2"/><rect x="151.7" y="1175.0" width="13" height="87.0" fill="#fff" stroke="#D5343B" stroke-width="2.2"/><rect x="170.7" y="1178.5" width="13.8" height="84.0" fill="#05A005"/><rect x="190.1" y="1181.5" width="13.8" height="81.0" fill="#05A005"/><rect x="209.6" y="1183.0" width="13.8" height="79.5" fill="#05A005"/><rect x="229.4" y="1190.0" width="13" height="72.0" fill="#fff" stroke="#D5343B" stroke-width="2.2"/><rect x="248.5" y="1191.0" width="13.8" height="71.5" fill="#05A005"/><rect x="268.0" y="1181.0" width="13.8" height="81.5" fill="#05A005"/><rect x="287.4" y="1190.0" width="13.8" height="72.5" fill="#05A005"/><rect x="307.2" y="1190.0" width="13" height="72.0" fill="#fff" stroke="#D5343B" stroke-width="2.2"/><rect x="326.3" y="1192.0" width="13.8" height="70.5" fill="#05A005"/><rect x="346.1" y="1192.5" width="13" height="69.5" fill="#fff" stroke="#D5343B" stroke-width="2.2"/><rect x="365.6" y="1198.5" width="13" height="63.5" fill="#fff" stroke="#D5343B" stroke-width="2.2"/><rect x="385.1" y="1184.5" width="13" height="77.5" fill="#fff" stroke="#D5343B" stroke-width="2.2"/><rect x="404.1" y="1199.0" width="13.8" height="63.5" fill="#05A005"/><rect x="423.6" y="1197.5" width="13.8" height="65.0" fill="#05A005"/><rect x="443.0" y="1199.0" width="13.8" height="63.5" fill="#05A005"/><rect x="462.8" y="1191.0" width="13" height="71.0" fill="#fff" stroke="#D5343B" stroke-width="2.2"/><rect x="482.3" y="1178.5" width="13" height="83.5" fill="#fff" stroke="#D5343B" stroke-width="2.2"/><rect x="501.4" y="1184.0" width="13.8" height="78.5" fill="#05A005"/><rect x="520.8" y="1188.0" width="13.8" height="74.5" fill="#05A005"/><rect x="540.2" y="1187.5" width="13.8" height="75.0" fill="#05A005"/><rect x="560.1" y="1172.0" width="13" height="90.0" fill="#fff" stroke="#D5343B" stroke-width="2.2"/><rect x="579.5" y="1186.0" width="13" height="76.0" fill="#fff" stroke="#D5343B" stroke-width="2.2"/><rect x="598.6" y="1188.5" width="13.8" height="74.0" fill="#05A005"/><rect x="618.4" y="1186.0" width="13" height="76.0" fill="#fff" stroke="#D5343B" stroke-width="2.2"/><rect x="637.9" y="1192.0" width="13" height="70.0" fill="#fff" stroke="#D5343B" stroke-width="2.2"/><rect x="657.4" y="1188.5" width="13" height="73.5" fill="#fff" stroke="#D5343B" stroke-width="2.2"/><rect x="676.8" y="1183.5" width="13" height="78.5" fill="#fff" stroke="#D5343B" stroke-width="2.2"/><rect x="696.2" y="1182.0" width="13" height="80.0" fill="#fff" stroke="#D5343B" stroke-width="2.2"/><rect x="715.7" y="1186.0" width="13" height="76.0" fill="#fff" stroke="#D5343B" stroke-width="2.2"/><rect x="735.1" y="1184.5" width="13" height="77.5" fill="#fff" stroke="#D5343B" stroke-width="2.2"/><rect x="754.6" y="1172.5" width="13" height="89.5" fill="#fff" stroke="#D5343B" stroke-width="2.2"/><rect x="774.0" y="1172.0" width="13" height="90.0" fill="#fff" stroke="#D5343B" stroke-width="2.2"/><rect x="793.5" y="1173.5" width="13" height="88.5" fill="#fff" stroke="#D5343B" stroke-width="2.2"/><rect x="812.9" y="1177.0" width="13" height="85.0" fill="#fff" stroke="#D5343B" stroke-width="2.2"/><rect x="832.4" y="1155.0" width="13" height="107.0" fill="#fff" stroke="#D5343B" stroke-width="2.2"/><rect x="851.9" y="1144.5" width="13" height="117.5" fill="#fff" stroke="#D5343B" stroke-width="2.2"/><rect x="871.3" y="1142.5" width="13" height="119.5" fill="#fff" stroke="#D5343B" stroke-width="2.2"/><rect x="890.8" y="1144.0" width="13" height="118.0" fill="#fff" stroke="#D5343B" stroke-width="2.2"/><rect x="910.2" y="1132.5" width="13" height="129.5" fill="#fff" stroke="#D5343B" stroke-width="2.2"/><rect x="929.6" y="1117.0" width="13" height="145.0" fill="#fff" stroke="#D5343B" stroke-width="2.2"/><rect x="948.7" y="1113.5" width="13.8" height="149.0" fill="#05A005"/><rect x="968.1" y="1101.5" width="13.8" height="161.0" fill="#05A005"/><rect x="988.0" y="1144.5" width="13" height="117.5" fill="#fff" stroke="#D5343B" stroke-width="2.2"/><rect x="1007.0" y="1127.5" width="13.8" height="135.0" fill="#05A005"/><rect x="1026.9" y="1143.0" width="13" height="119.0" fill="#fff" stroke="#D5343B" stroke-width="2.2"/><rect x="1045.9" y="1139.0" width="13.8" height="123.5" fill="#05A005"/><polyline points="20.0,1164.0 100.0,1167.5 270.0,1172.5 370.0,1180.0 500.0,1185.0 540.0,1189.0 640.0,1187.3 740.0,1185.0 840.0,1181.7 900.0,1174.0 950.0,1165.8 983.0,1160.0 1017.0,1155.8 1052.0,1151.3" fill="none" stroke="#3E9A3E" stroke-width="2" stroke-linejoin="round" stroke-linecap="round"/><polyline points="20.0,1169.0 75.0,1166.5 100.0,1166.5 270.0,1176.0 370.0,1185.0 500.0,1190.0 540.0,1189.3 607.0,1186.0 707.0,1184.0 807.0,1180.0 840.0,1175.0 873.0,1168.3 900.0,1162.5 933.0,1155.0 975.0,1139.7 993.0,1136.7 1008.0,1132.5 1033.0,1130.3 1052.5,1130.0" fill="none" stroke="#C846C8" stroke-width="2" stroke-linejoin="round" stroke-linecap="round"/><polyline points="20.0,1165.0 60.0,1170.0 100.0,1171.5 150.0,1174.0 250.0,1179.0 370.0,1190.0 450.0,1195.0 500.0,1192.5 540.0,1187.0 565.0,1181.0 607.0,1183.3 673.0,1185.0 740.0,1183.3 773.0,1178.3 813.0,1176.0 840.0,1168.3 873.0,1158.3 900.0,1150.5 933.0,1138.3 955.0,1129.0 973.0,1120.8 1013.0,1120.0 1052.0,1129.0" fill="none" stroke="#B5B22A" stroke-width="2" stroke-linejoin="round" stroke-linecap="round"/><text x="14" y="1120.5" font-size="21.5" fill="#5B6670" text-anchor="start" font-family="Liberation Sans, sans-serif">160704128.00</text><text x="14" y="1257.5" font-size="21.5" fill="#5B6670" text-anchor="start" font-family="Liberation Sans, sans-serif">0.00</text><circle cx="1038.5" cy="1075.2" r="22.5" fill="#E8E8E8" fill-opacity="0.45"/><path d="M1027.5,1064 h8.5 M1027.5,1064 v8.5 M1027.5,1064 l9,9 M1049,1086 h-8.5 M1049,1086 v-8.5 M1049,1086 l-9,-9" stroke="#8C8C8C" stroke-width="1.8" fill="none" stroke-opacity="0.85"/><rect x="12.5" y="1271" width="71.5" height="40.5" rx="5" fill="#F0F0F0"/><text x="19.0" y="1302.5" font-size="27.5" fill="#2A2A2A" text-anchor="start" font-family="Liberation Sans, sans-serif" textLength="32" lengthAdjust="spacingAndGlyphs">KD</text><path d="M57.5,1290.5 h17 l-8.5,7.5z" fill="#9A9A9A"/><text x="91.5" y="1302.5" font-size="27.5" fill="#5D6165" text-anchor="start" font-family="Liberation Sans, sans-serif" textLength="177.5" lengthAdjust="spacingAndGlyphs">(9,3,3) K: 50.78</text><path d="M275.5,1279 v25 M275.5,1304 l-4.5,-6 M275.5,1304 l4.5,-6" stroke="#2A9A4A" stroke-width="2" fill="none"/><text x="290" y="1302.5" font-size="27.5" fill="#B5B22A" text-anchor="start" font-family="Liberation Sans, sans-serif" textLength="95" lengthAdjust="spacingAndGlyphs">D: 65.11</text><path d="M392.5,1279 v25 M392.5,1304 l-4.5,-6 M392.5,1304 l4.5,-6" stroke="#2A9A4A" stroke-width="2" fill="none"/><rect x="11.5" y="1319" width="1056" height="162" fill="none" stroke="#E4E4E4" stroke-width="1.5"/><polyline points="22.0,1372.5 41.5,1387.5 60.9,1372.5 80.3,1369.0 99.8,1354.0 119.2,1353.5 138.7,1355.0 158.2,1340.0 177.6,1354.0 197.0,1377.5 216.5,1412.5 235.9,1432.5 255.4,1455.0 274.9,1472.5 294.3,1477.5 313.8,1472.5 333.2,1470.0 352.6,1461.0 372.1,1445.0 391.6,1422.5 411.0,1416.0 430.4,1405.0 449.9,1399.0 469.3,1379.0 488.8,1366.0 508.2,1369.0 527.7,1377.5 547.1,1409.0 566.6,1412.5 586.0,1430.0 605.5,1451.0 624.9,1440.0 644.4,1430.0 663.9,1410.0 683.3,1377.5 702.8,1364.0 722.2,1348.5 741.6,1336.5 761.1,1333.5 780.5,1332.5 800.0,1334.0 819.4,1334.0 838.9,1326.5 858.4,1321.0 877.8,1321.5 897.2,1323.5 916.7,1319.0 936.1,1318.0 955.6,1325.0 975.0,1337.5 994.5,1352.5 1013.9,1373.5 1033.4,1393.5 1052.8,1406.0" fill="none" stroke="#5D6165" stroke-width="2.2" stroke-linejoin="round" stroke-linecap="round"/><polyline points="22.0,1356.0 41.5,1366.0 60.9,1369.0 80.3,1368.5 99.8,1363.5 119.2,1360.0 138.7,1358.0 158.2,1351.5 177.6,1353.5 197.0,1361.5 216.5,1380.0 235.9,1399.0 255.4,1418.0 274.9,1436.0 294.3,1449.0 313.8,1456.0 333.2,1460.0 352.6,1460.0 372.1,1455.0 391.6,1444.0 411.0,1434.0 430.4,1424.0 449.9,1415.0 469.3,1402.5 488.8,1391.0 508.2,1384.0 527.7,1382.5 547.1,1392.5 566.6,1399.0 586.0,1409.0 605.5,1422.5 624.9,1429.0 644.4,1430.0 663.9,1422.5 683.3,1407.5 702.8,1392.5 722.2,1377.5 741.6,1364.0 761.1,1354.0 780.5,1346.5 800.0,1342.5 819.4,1340.0 838.9,1336.0 858.4,1331.5 877.8,1328.0 897.2,1326.0 916.7,1324.0 936.1,1321.5 955.6,1323.5 975.0,1329.0 994.5,1336.0 1013.9,1347.5 1033.4,1362.5 1052.8,1377.5" fill="none" stroke="#B5B22A" stroke-width="2.2" stroke-linejoin="round" stroke-linecap="round"/><text x="14" y="1336" font-size="21.5" fill="#5B6670" text-anchor="start" font-family="Liberation Sans, sans-serif">96.03</text><text x="14" y="1474" font-size="21.5" fill="#5B6670" text-anchor="start" font-family="Liberation Sans, sans-serif">15.05</text><rect x="12.5" y="1486.5" width="77.5" height="40.5" rx="5" fill="#F0F0F0"/><text x="19.0" y="1518.0" font-size="27.5" fill="#2A2A2A" text-anchor="start" font-family="Liberation Sans, sans-serif" textLength="38.5" lengthAdjust="spacingAndGlyphs">WR</text><path d="M63.5,1506.0 h17 l-8.5,7.5z" fill="#9A9A9A"/><text x="96.5" y="1519" font-size="27.5" fill="#5D6165" text-anchor="start" font-family="Liberation Sans, sans-serif" textLength="223.5" lengthAdjust="spacingAndGlyphs">(10,20) WR1: 62.40</text><path d="M329,1495.5 v25 M329,1495.5 l-4.5,6 M329,1495.5 l4.5,6" stroke="#D93A3A" stroke-width="2" fill="none"/><text x="345" y="1519" font-size="27.5" fill="#B5B22A" text-anchor="start" font-family="Liberation Sans, sans-serif" textLength="132.5" lengthAdjust="spacingAndGlyphs">WR2: 26.60</text><path d="M485,1495.5 v25 M485,1495.5 l-4.5,6 M485,1495.5 l4.5,6" stroke="#D93A3A" stroke-width="2" fill="none"/><rect x="11.5" y="1533.5" width="1056" height="161.5" fill="none" stroke="#E4E4E4" stroke-width="1.5"/><polyline points="22.0,1621.5 41.5,1632.5 60.9,1665.0 80.3,1650.0 99.8,1683.5 119.2,1658.5 138.7,1654.0 158.2,1692.5 177.6,1631.0 197.0,1604.0 216.5,1557.5 235.9,1562.5 255.4,1539.0 274.9,1533.5 294.3,1547.5 313.8,1571.5 333.2,1567.5 352.6,1576.0 372.1,1599.0 391.6,1636.0 411.0,1619.0 430.4,1598.5 449.9,1630.0 469.3,1675.0 488.8,1673.0 508.2,1640.0 527.7,1621.0 547.1,1566.0 566.6,1605.0 586.0,1564.0 605.5,1542.5 624.9,1605.0 644.4,1612.5 663.9,1632.5 683.3,1684.0 702.8,1671.0 722.2,1686.5 741.6,1689.0 761.1,1680.0 780.5,1676.0 800.0,1676.0 819.4,1675.0 838.9,1691.5 858.4,1694.0 877.8,1683.5 897.2,1681.0 916.7,1692.5 936.1,1691.5 955.6,1666.0 975.0,1651.0 994.5,1641.0 1013.9,1625.0 1033.4,1619.0 1052.8,1592.5" fill="none" stroke="#5D6165" stroke-width="2.2" stroke-linejoin="round" stroke-linecap="round"/><polyline points="22.0,1646.5 41.5,1654.0 60.9,1681.5 80.3,1674.0 99.8,1687.5 119.2,1675.0 138.7,1672.5 158.2,1692.5 177.6,1655.0 197.0,1634.0 216.5,1597.5 235.9,1603.5 255.4,1545.0 274.9,1533.5 294.3,1547.5 313.8,1572.5 333.2,1567.5 352.6,1576.0 372.1,1586.0 391.6,1604.0 411.0,1592.5 430.4,1577.5 449.9,1576.5 469.3,1596.0 488.8,1611.5 508.2,1601.5 527.7,1594.0 547.1,1575.0 566.6,1599.0 586.0,1587.5 605.5,1541.0 624.9,1590.0 644.4,1610.0 663.9,1632.5 683.3,1668.5 702.8,1671.0 722.2,1686.5 741.6,1689.0 761.1,1680.0 780.5,1676.0 800.0,1676.0 819.4,1679.0 838.9,1691.5 858.4,1694.0 877.8,1686.5 897.2,1685.0 916.7,1693.5 936.1,1692.5 955.6,1676.0 975.0,1666.0 994.5,1660.0 1013.9,1651.0 1033.4,1655.0 1052.8,1651.0" fill="none" stroke="#B5B22A" stroke-width="2.2" stroke-linejoin="round" stroke-linecap="round"/><text x="14" y="1552.5" font-size="21.5" fill="#5B6670" text-anchor="start" font-family="Liberation Sans, sans-serif">99.93</text><text x="14" y="1690" font-size="21.5" fill="#5B6670" text-anchor="start" font-family="Liberation Sans, sans-serif">0.00</text><rect x="12.5" y="1702.5" width="77.5" height="40.5" rx="5" fill="#F0F0F0"/><text x="19.0" y="1734.0" font-size="27.5" fill="#2A2A2A" text-anchor="start" font-family="Liberation Sans, sans-serif" textLength="38.5" lengthAdjust="spacingAndGlyphs">RSI</text><path d="M63.5,1722.0 h17 l-8.5,7.5z" fill="#9A9A9A"/><text x="97.5" y="1735" font-size="27.5" fill="#5D6165" text-anchor="start" font-family="Liberation Sans, sans-serif" textLength="215" lengthAdjust="spacingAndGlyphs">(9,9,9) RSI1: 67.01</text><path d="M320.5,1711.5 v25 M320.5,1736.5 l-4.5,-6 M320.5,1736.5 l4.5,-6" stroke="#2A9A4A" stroke-width="2" fill="none"/><text x="334" y="1735" font-size="27.5" fill="#B5B22A" text-anchor="start" font-family="Liberation Sans, sans-serif" textLength="131" lengthAdjust="spacingAndGlyphs">RSI2: 67.01</text><path d="M473,1711.5 v25 M473,1736.5 l-4.5,-6 M473,1736.5 l4.5,-6" stroke="#2A9A4A" stroke-width="2" fill="none"/><text x="487.5" y="1735" font-size="27.5" fill="#C846C8" text-anchor="start" font-family="Liberation Sans, sans-serif" textLength="132.5" lengthAdjust="spacingAndGlyphs">RSI3: 67.01</text><path d="M626.5,1711.5 v25 M626.5,1736.5 l-4.5,-6 M626.5,1736.5 l4.5,-6" stroke="#2A9A4A" stroke-width="2" fill="none"/><rect x="11.5" y="1750" width="1056" height="161.5" fill="none" stroke="#E4E4E4" stroke-width="1.5"/><polyline points="22.0,1836.0 41.5,1831.5 60.9,1813.5 80.3,1821.0 99.8,1811.5 119.2,1824.0 138.7,1826.0 158.2,1810.0 177.6,1841.0 197.0,1852.5 216.5,1870.0 235.9,1865.0 255.4,1874.0 274.9,1910.0 294.3,1908.5 313.8,1883.5 333.2,1886.0 352.6,1877.5 372.1,1867.5 391.6,1849.0 411.0,1860.0 430.4,1871.0 449.9,1872.5 469.3,1850.0 488.8,1835.5 508.2,1846.5 527.7,1854.0 547.1,1872.5 566.6,1858.5 586.0,1872.5 605.5,1895.0 624.9,1859.0 644.4,1855.0 663.9,1846.5 683.3,1829.0 702.8,1827.5 722.2,1816.0 741.6,1806.0 761.1,1804.0 780.5,1803.5 800.0,1803.5 819.4,1801.0 838.9,1775.0 858.4,1760.0 877.8,1759.5 897.2,1763.0 916.7,1755.0 936.1,1750.0 955.6,1776.5 975.0,1790.0 994.5,1802.5 1013.9,1811.5 1033.4,1805.5 1052.8,1806.0" fill="none" stroke="#C846C8" stroke-width="2.2" stroke-linejoin="round" stroke-linecap="round"/><text x="14" y="1768.5" font-size="21.5" fill="#5B6670" text-anchor="start" font-family="Liberation Sans, sans-serif">90.15</text><text x="14" y="1905.5" font-size="21.5" fill="#5B6670" text-anchor="start" font-family="Liberation Sans, sans-serif">25.31</text><text x="14" y="1936.5" font-size="24" fill="#444" text-anchor="start" font-family="Liberation Sans, sans-serif" textLength="111" lengthAdjust="spacingAndGlyphs">2025/11/04</text><text x="158.5" y="1937" font-size="23.5" fill="#555" text-anchor="start" textLength="113" lengthAdjust="spacingAndGlyphs">周期数54个</text><text x="304" y="1937" font-size="23.5" fill="#555" text-anchor="start" textLength="66" lengthAdjust="spacingAndGlyphs">前复权</text><text x="1067" y="1936.5" font-size="24" fill="#444" text-anchor="end" font-family="Liberation Sans, sans-serif" textLength="112" lengthAdjust="spacingAndGlyphs">2026/01/20</text></svg>
<svg width="1080" height="2412" font-family='"Liberation Sans","Noto Sans CJK SC",sans-serif'><rect x="0" y="1948.5" width="1080" height="2" fill="#EDEDED"/><text x="44.95" y="2003.28" font-size="34.00" fill="#6A6A6A" textLength="67.40" lengthAdjust="spacingAndGlyphs" >特色</text><path d="M123,1988 h20 l-10,10.5z" fill="#8F8F8F"/><rect x="190" y="1968" width="1.6" height="40" fill="#E8E8E8"/><text x="236.47" y="2003.58" font-size="34.00" fill="#6A6A6A" textLength="88.45" lengthAdjust="spacingAndGlyphs" >裸K线</text><text x="369.08" y="2001.50" font-size="34.35" fill="#6A6A6A" textLength="52.82" lengthAdjust="spacingAndGlyphs" >MA</text><text x="467.55" y="2003.24" font-size="34.00" fill="#6A6A6A" textLength="135.31" lengthAdjust="spacingAndGlyphs" >北上资金</text><text x="646.75" y="2001.94" font-size="34.00" fill="#6A6A6A" textLength="136.62" lengthAdjust="spacingAndGlyphs" >两融资金</text><text x="827.64" y="2001.94" font-size="34.00" fill="#6A6A6A" textLength="170.43" lengthAdjust="spacingAndGlyphs" >增减持资金</text><text x="1042.5" y="2002" font-size="34" fill="#6A6A6A" text-anchor="start" >打板</text><rect x="0" y="2026" width="1080" height="16.5" fill="#F3F3F3"/><defs><clipPath id="tc"><rect x="0" y="2042" width="1080" height="63.5"/></clipPath></defs><g clip-path="url(#tc)"><text x="3.5" y="2105.5" font-size="39" fill="#151515" text-anchor="start" >股</text><text x="111" y="2105.5" font-size="39" fill="#151515" text-anchor="start" >资讯</text><text x="279.5" y="2105.5" font-size="39" fill="#151515" text-anchor="start" >基金</text><text x="449" y="2105.5" font-size="39" fill="#151515" text-anchor="start" >解盘</text><text x="619.5" y="2105.5" font-size="39" fill="#D9363A" text-anchor="start" >贡献</text><text x="769" y="2105.5" font-size="39" fill="#151515" text-anchor="start" >财富圈</text><text x="939" y="2105.5" font-size="39" fill="#151515" text-anchor="start" >AI分析</text></g><rect x="0" y="2105.5" width="1080" height="1.5" fill="#EBEBEB"/><path d="M134,2126 l9.3,-9 l9.3,9z" fill="#999"/><text x="75.23" y="2173.63" font-size="36.62" fill="#1A9A23" textLength="136.33" lengthAdjust="spacingAndGlyphs" >4113.65</text><text x="56.35" y="2220.73" font-size="31.80" fill="#6A6A6A" textLength="65.97" lengthAdjust="spacingAndGlyphs" >上证</text><text x="128.34" y="2221.18" font-size="31.69" fill="#1A9A23" textLength="99.88" lengthAdjust="spacingAndGlyphs" >-0.01%</text><rect x="364" y="2126.5" width="45.5" height="44.5" rx="6" fill="none" stroke="#333" stroke-width="3.4"/><text x="386.8" y="2160" font-size="27" fill="#333" text-anchor="middle" font-weight="bold">买</text><text x="337.06" y="2218.64" font-size="31.80" fill="#6A6A6A" textLength="96.91" lengthAdjust="spacingAndGlyphs" >买指数</text><path d="M566,2164 h40 l-4.5,-6 v-14 a15.5,15.5 0 0 0 -31,0 v14z" fill="none" stroke="#333" stroke-width="3.4" stroke-linejoin="round"/><path d="M580,2169 h12 a6,6 0 0 1 -12,0z" fill="#333"/><circle cx="586" cy="2127" r="2.5" fill="#333"/><text x="552.68" y="2218.96" font-size="31.80" fill="#6A6A6A" textLength="66.15" lengthAdjust="spacingAndGlyphs" >预警</text><circle cx="783.3" cy="2149.5" r="23.8" fill="none" stroke="#D9363A" stroke-width="3.6"/><path d="M783.3,2137 v25 M770.8,2149.5 h25" stroke="#D9363A" stroke-width="3.6"/><text x="733.01" y="2218.96" font-size="31.80" fill="#6A6A6A" textLength="99.32" lengthAdjust="spacingAndGlyphs" >加自选</text><rect x="960.2" y="2128.7" width="19.5" height="19.5" rx="3" fill="none" stroke="#333" stroke-width="3.4"/><rect x="984.7" y="2128.7" width="19.5" height="19.5" rx="3" fill="none" stroke="#333" stroke-width="3.4"/><rect x="960.2" y="2153.2" width="19.5" height="19.5" rx="3" fill="none" stroke="#333" stroke-width="3.4"/><rect x="984.7" y="2153.2" width="19.5" height="19.5" rx="3" fill="none" stroke="#333" stroke-width="3.4"/><text x="948.35" y="2218.64" font-size="31.80" fill="#6A6A6A" textLength="66.14" lengthAdjust="spacingAndGlyphs" >更多</text><path d="M263,2330.5 h36 M263,2347 h36 M263,2363.5 h36" stroke="#9A9A9A" stroke-width="3"/><rect x="523.5" y="2330" width="33" height="33.5" rx="6.5" fill="none" stroke="#9A9A9A" stroke-width="3"/><path d="M812.5,2330.5 v31.5 l-31,-15.75z" fill="none" stroke="#9A9A9A" stroke-width="3" stroke-linejoin="round"/></svg>
<svg width="1080" height="2412" font-family='"Liberation Sans","Noto Sans CJK SC",sans-serif'><defs>
<linearGradient id="dp" x1="0" y1="0" x2="0" y2="1">
<stop offset="0" stop-color="#F23A9C"/><stop offset="0.3" stop-color="#F566B8"/><stop offset="0.45" stop-color="#FBC8EC"/><stop offset="0.62" stop-color="#FBD2EE"/><stop offset="0.72" stop-color="#F25CAA"/><stop offset="1" stop-color="#EE2A80"/></linearGradient>
<linearGradient id="dg" x1="0" y1="0" x2="0" y2="1">
<stop offset="0" stop-color="#F9B41A"/><stop offset="0.3" stop-color="#FCC73A"/><stop offset="0.45" stop-color="#FFF0C4"/><stop offset="0.62" stop-color="#FFF3D2"/><stop offset="0.72" stop-color="#F8B42A"/><stop offset="1" stop-color="#F39A10"/></linearGradient>
<radialGradient id="rb" cx="0.58" cy="0.22" r="0.85"><stop offset="0" stop-color="#FFF4F4"/><stop offset="0.25" stop-color="#F9C4C4"/><stop offset="0.55" stop-color="#EC3434"/><stop offset="0.85" stop-color="#D81E1E"/><stop offset="1" stop-color="#B01414"/></radialGradient>
</defs><path d="M653.4,824.6 C660.2,823.4 669.7,823.4 675.4,824.8 C681.1,826.6 683.5,832.2 683.0,837.9 C680.0,845.5 671.6,852.0 666.3,857.0 C659.4,852.0 648.0,846.4 645.0,838.9 C645.5,830.6 648.0,825.6 653.4,824.6 Z" fill="url(#dp)"/><path d="M845.7,746.6 C852.6,745.4 862.3,745.4 868.0,746.8 C873.8,748.6 876.2,754.1 875.8,759.6 C872.7,767.1 864.2,773.6 858.8,778.5 C851.9,773.6 840.3,768.1 837.2,760.6 C837.8,752.5 840.3,747.6 845.7,746.6 Z" fill="url(#dg)"/><circle cx="954" cy="705.5" r="18.6" fill="url(#rb)"/><path d="M941,707 q9,-5 24,-8 M945,714 q8,-4 17,-6" fill="none" stroke="#FFFFFF" stroke-opacity="0.55" stroke-width="2.2" stroke-linecap="round"/><text x="663" y="890.5" font-size="26.5" fill="#2BA3BA" text-anchor="middle" font-family="Liberation Sans, sans-serif" stroke="#2BA3BA" stroke-width="0.6">20</text><text x="855.5" y="810" font-size="26.5" fill="#3A8A3A" text-anchor="middle" font-family="Liberation Sans, sans-serif" stroke="#3A8A3A" stroke-width="0.6">10</text><text x="954.5" y="758.5" font-size="26.5" fill="#B444C8" text-anchor="middle" font-family="Liberation Sans, sans-serif" stroke="#B444C8" stroke-width="0.6">5</text></svg>
</body></html>
